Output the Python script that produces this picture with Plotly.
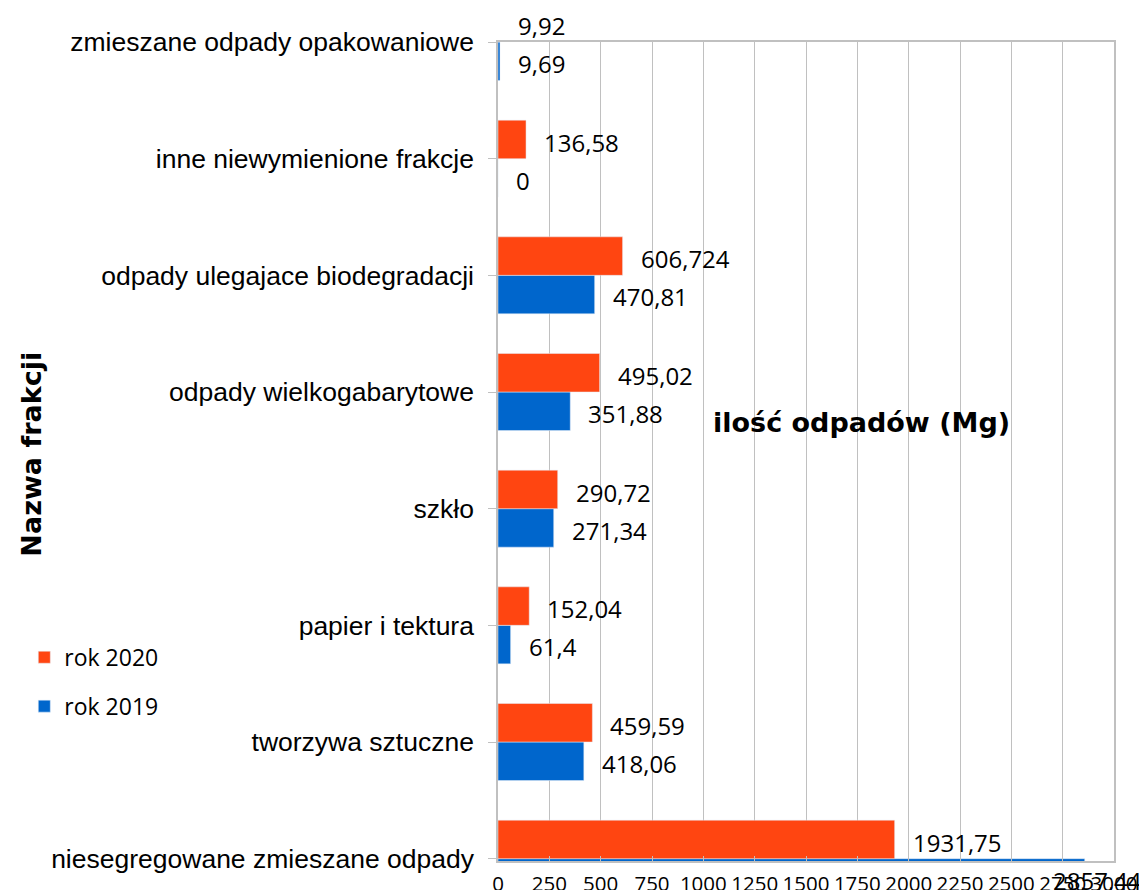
import plotly.graph_objects as go

# Data (bottom-to-top order as drawn)
categories = [
    "niesegregowane zmieszane odpady",
    "tworzywa sztuczne",
    "papier i tektura",
    "szkło",
    "odpady wielkogabarytowe",
    "odpady ulegajace biodegradacji",
    "inne niewymienione frakcje",
    "zmieszane odpady opakowaniowe",
]
rok_2019 = [2857.44, 418.06, 61.4, 271.34, 351.88, 470.81, 0, 9.69]
rok_2020 = [1931.75, 459.59, 152.04, 290.72, 495.02, 606.724, 136.58, 9.92]
x_ticks = list(range(0, 3001, 250))
x_max = 3000

ORANGE = "#FF4511"
BLUE = "#0066CC"
GRID = "#C0C0C0"

def fmt(v):
    return f"{v:g}".replace(".", ",")

fig = go.Figure()
fig.add_trace(go.Bar(name="rok 2019", y=categories, x=rok_2019, orientation="h",
                     marker=dict(color=BLUE), legendgroup="g2019", legendrank=2))
fig.add_trace(go.Bar(name="rok 2020", y=categories, x=rok_2020, orientation="h",
                     marker=dict(color=ORANGE), legendgroup="g2020", legendrank=1))

label_font = dict(family="Open Sans", size=24, color="#000000")
annotations = []
for cat, v19, v20 in zip(categories, rok_2019, rok_2020):
    for v, ysh in ((v20, 16.5), (v19, -21.5)):
        if v / x_max > 0.9:
            # Excel keeps the label inside the chart area
            annotations.append(dict(x=1 + 30 / 616, xref="paper", y=cat, yref="y",
                                    text=fmt(v), showarrow=False, xanchor="right",
                                    yshift=ysh, font=label_font))
        else:
            annotations.append(dict(x=v, xref="x", y=cat, yref="y", text=fmt(v),
                                    showarrow=False, xanchor="left", xshift=16,
                                    yshift=ysh, font=label_font))

annotations.append(dict(x=0.59, y=0.535, xref="paper", yref="paper", xanchor="center",
                        yanchor="middle",
                        text="<b>ilość odpadów (Mg)</b>", showarrow=False,
                        font=dict(family="DejaVu Sans", size=27, color="#000000")))
annotations.append(dict(x=-0.757, y=0.497, xref="paper", yref="paper", xanchor="center",
                        yanchor="middle",
                        text="<b>Nazwa frakcji</b>", showarrow=False, textangle=-90,
                        font=dict(family="DejaVu Sans", size=27, color="#000000")))

# the page body adds an 8px offset, so the figure is drawn 8px smaller
fig.update_layout(
    width=1139, height=882,
    margin=dict(l=490, r=33, t=34, b=29, autoexpand=False),
    paper_bgcolor="white", plot_bgcolor="white",
    barmode="group", bargap=0.34, bargroupgap=0,
    annotations=annotations,
    showlegend=True,
    legend=dict(x=-0.769, y=0.275, xanchor="left", yanchor="top",
                traceorder="grouped", tracegroupgap=16,
                font=dict(family="Open Sans", size=23, color="#000000"),
                itemwidth=30, bgcolor="rgba(0,0,0,0)"),
    xaxis=dict(range=[0, x_max], tickvals=x_ticks, ticktext=[str(t) for t in x_ticks],
               ticks="inside", ticklen=5, tickcolor=GRID, tickwidth=1.3,
               showgrid=True, gridcolor=GRID, gridwidth=1.3, zeroline=False,
               showline=True, linecolor=GRID, linewidth=1.5, mirror=True,
               automargin=False, ticklabelstandoff=4,
               tickangle=0, tickfont=dict(family="Open Sans", size=20.5, color="#000000")),
    yaxis=dict(type="category", range=[-0.02, 7], ticks="outside", ticklen=8,
               tickcolor=GRID, tickwidth=1.3, showgrid=False, zeroline=False,
               showline=True, linecolor=GRID, linewidth=1.5, mirror=True,
               automargin=False, ticklabelstandoff=9,
               tickfont=dict(family="Liberation Sans", size=26.5, color="#000000")),
)

fig.write_html("out.html")
